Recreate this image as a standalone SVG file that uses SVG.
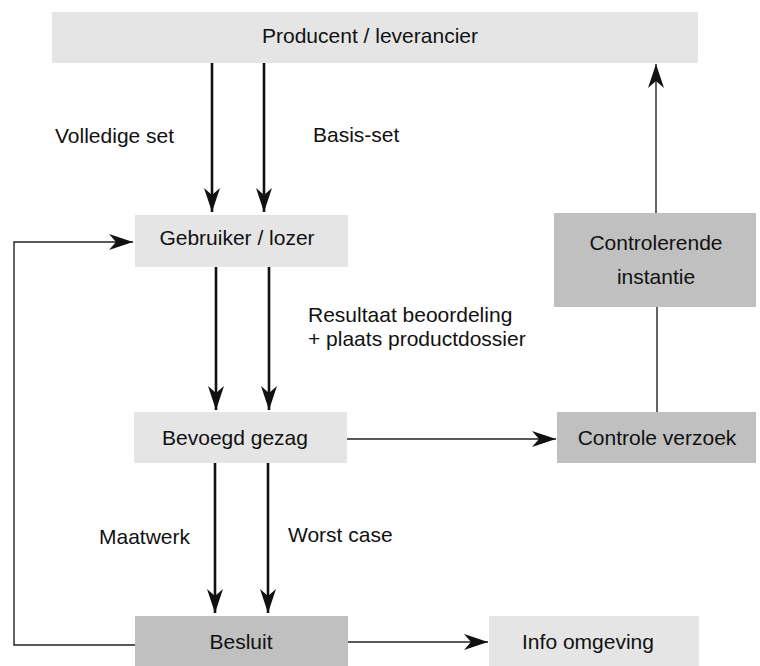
<svg xmlns="http://www.w3.org/2000/svg" width="760" height="666" viewBox="0 0 760 666">
<defs>
<style>
.light{fill:#e5e5e5}
.dark{fill:#c0c0c0}
text{font-family:"Liberation Sans",Arial,sans-serif;font-size:21px;fill:#111}
.c{text-anchor:middle}
.thick{stroke:#111;stroke-width:2.6;fill:none}
.thin{stroke:#222;stroke-width:1.4;fill:none}
</style>
<marker id="ah" markerUnits="userSpaceOnUse" viewBox="0 0 24 16" refX="24" refY="8" markerWidth="24" markerHeight="16" orient="auto">
<path d="M0,0 L24,8 L0,16 L7,8 Z" fill="#111"/>
</marker>
</defs>
<rect width="760" height="666" fill="#fff"/>
<g id="connectors">
<line class="thick" x1="212" y1="63" x2="212" y2="212" marker-end="url(#ah)"/>
<line class="thick" x1="264" y1="63" x2="264" y2="212" marker-end="url(#ah)"/>
<line class="thick" x1="216" y1="267" x2="216" y2="410" marker-end="url(#ah)"/>
<line class="thick" x1="269" y1="267" x2="269" y2="410" marker-end="url(#ah)"/>
<line class="thick" x1="215" y1="463" x2="215" y2="613" marker-end="url(#ah)"/>
<line class="thick" x1="268" y1="463" x2="268" y2="613" marker-end="url(#ah)"/>
<line class="thin" x1="347" y1="439" x2="556" y2="439" marker-end="url(#ah)"/>
<line class="thin" x1="657" y1="412" x2="657" y2="307"/>
<line class="thin" x1="656" y1="213" x2="656" y2="64" marker-end="url(#ah)"/>
<line class="thin" x1="348" y1="642" x2="488" y2="642" marker-end="url(#ah)"/>
<polyline class="thin" points="135,645 14,645 14,242 133,242" marker-end="url(#ah)"/>
<text x="55" y="143">Volledige set</text>
<text x="313" y="142">Basis-set</text>
<text x="308" y="322">Resultaat beoordeling</text>
<text x="308" y="346">+ plaats productdossier</text>
<text x="99" y="544">Maatwerk</text>
<text x="288" y="542">Worst case</text>
</g>
<g id="producent">
<rect class="light" x="52" y="12" width="646" height="51"/>
<text class="c" x="370" y="43">Producent / leverancier</text>
</g>
<g id="gebruiker">
<rect class="light" x="135" y="215" width="213" height="52"/>
<text class="c" x="237" y="245">Gebruiker / lozer</text>
</g>
<g id="bevoegd">
<rect class="light" x="134" y="412" width="213" height="51"/>
<text class="c" x="235" y="445">Bevoegd gezag</text>
</g>
<g id="controle-verzoek">
<rect class="dark" x="557" y="412" width="199" height="51"/>
<text class="c" x="657" y="445">Controle verzoek</text>
</g>
<g id="controlerende">
<rect class="dark" x="554" y="213" width="202" height="94"/>
<text class="c" x="656" y="250">Controlerende</text>
<text class="c" x="656" y="284">instantie</text>
</g>
<g id="besluit">
<rect class="dark" x="135" y="616" width="213" height="50"/>
<text class="c" x="241" y="649">Besluit</text>
</g>
<g id="info">
<rect class="light" x="489" y="616" width="210" height="50"/>
<text class="c" x="588" y="649">Info omgeving</text>
</g>
</svg>
